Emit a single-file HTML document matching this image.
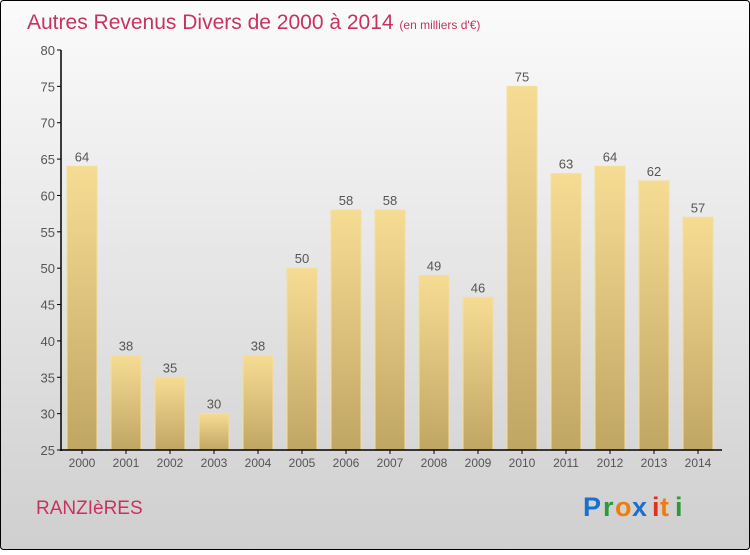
<!DOCTYPE html>
<html><head><meta charset="utf-8"><style>
html,body{margin:0;padding:0}
body{width:750px;height:550px;overflow:hidden;font-family:"Liberation Sans",sans-serif}
</style></head><body>
<svg width="750" height="550" xmlns="http://www.w3.org/2000/svg">
<defs>
<linearGradient id="bg" x1="0" y1="0" x2="0" y2="1"><stop offset="0" stop-color="#fbfbfb"/><stop offset="1" stop-color="#cfcfcf"/></linearGradient>
<linearGradient id="bar" x1="0" y1="0" x2="0" y2="1"><stop offset="0" stop-color="#f6dc93"/><stop offset="1" stop-color="#c0a663"/></linearGradient>
</defs>
<rect x="0.5" y="0.5" width="749" height="549" rx="3" fill="url(#bg)" stroke="#000"/>
<text x="27" y="29" font-size="21" fill="#c8325e" font-family="'Liberation Sans',sans-serif">Autres Revenus Divers de 2000 à 2014 <tspan font-size="12">(en milliers d'€)</tspan></text>
<g id="yaxis"></g>
<g id="bars"></g>
<g id="xaxis"></g>
<text x="36" y="514" font-size="19" fill="#c8325e">RANZIèRES</text>
<g font-size="27" font-weight="bold" font-family="'Liberation Sans',sans-serif">
<text x="583" y="516" fill="#1a6fcf">P</text><text x="603" y="516" fill="#2a9a3a">r</text><text x="615" y="516" fill="#f07c10">o</text><text x="632" y="516" fill="#1a6fcf">x</text><text x="652" y="516" fill="#e03020">i</text><text x="660" y="516" fill="#f07c10">t</text><text x="675" y="516" fill="#2a9a3a">i</text>
</g>
</svg>
<script>
const categories=["2000","2001","2002","2003","2004","2005","2006","2007","2008","2009","2010","2011","2012","2013","2014"];
const values=[64,38,35,30,38,50,58,58,49,46,75,63,64,62,57];
const yTicks=[25,30,35,40,45,50,55,60,65,70,75,80];
const NS="http://www.w3.org/2000/svg";
const y=v=>450-(v-25)*400/55;
const x=i=>82+i*44;
function mk(tag,attrs,parent,txt){const e=document.createElementNS(NS,tag);for(const k in attrs)e.setAttribute(k,attrs[k]);if(txt!=null)e.textContent=txt;parent.appendChild(e);return e;}
const ya=document.getElementById('yaxis'),ba=document.getElementById('bars'),xa=document.getElementById('xaxis');
yTicks.forEach(t=>{
  const l=mk('line',{x1:57,x2:61,y1:y(t),y2:y(t),stroke:'#000'},ya);
  
  
  const tx=mk('text',{x:55,y:y(t)+5,'text-anchor':'end','font-size':13,fill:'#555'},ya,t);
  
  
});
mk('line',{x1:61,x2:61,y1:50,y2:451,stroke:'#000','stroke-width':1.5},ya);
values.forEach((v,i)=>{
  const r=mk('rect',{x:x(i)-15,y:y(v),width:30,height:450-y(v),fill:'url(#bar)',stroke:'#f3df9e','stroke-width':1},ba);
  
  
  const t=mk('text',{x:x(i),y:y(v)-5,'text-anchor':'middle','font-size':13,fill:'#555'},ba,v);
  
  
  const c=mk('text',{x:x(i),y:467,'text-anchor':'middle','font-size':12,fill:'#555'},xa,categories[i]);
  
  
  mk('line',{x1:x(i),x2:x(i),y1:450,y2:454,stroke:'#000'},xa);
});
mk('line',{x1:60,x2:722,y1:450,y2:450,stroke:'#000','stroke-width':1.5},xa);
</script>
</body></html>
